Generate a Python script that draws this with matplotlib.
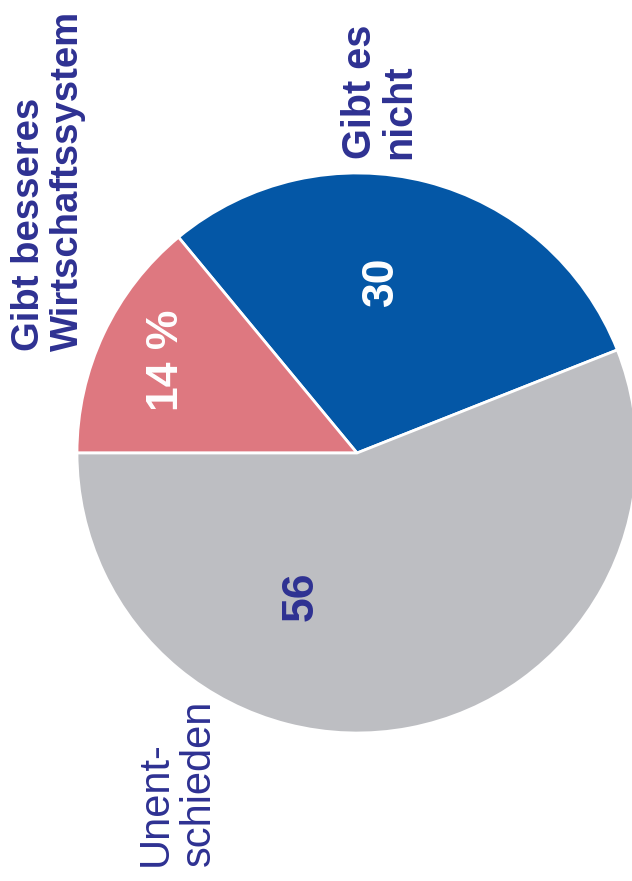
import matplotlib.pyplot as plt

# survey shares in percent
shares = [30, 14, 56]
categories = ['Gibt es\nnicht', 'Gibt besseres\nWirtschaftssystem', 'Unent-\nschieden']
colors = ['#0457A6', '#DE7880', '#BDBEC2']
navy = '#2E3192'

W, H = 632, 881
fig = plt.figure(figsize=(W / 100, H / 100), dpi=100)
ax = fig.add_axes([0, 0, 1, 1])

# pie in pixel coordinates (y measured from the bottom)
ax.pie(shares, colors=colors, startangle=21.6, radius=280, center=(357, H - 453),
       wedgeprops=dict(edgecolor='white', linewidth=2))
ax.set_xlim(0, W)
ax.set_ylim(0, H)
ax.set_aspect('equal')
ax.axis('off')

font = 'Liberation Sans'

# outer category labels, rotated
ax.text(11, H - 351, categories[1], rotation=90, ha='left', va='bottom',
        fontsize=27.5, fontweight='bold', color=navy, family=font,
        linespacing=1.1, multialignment='left')
ax.text(341, H - 159, categories[0], rotation=90, ha='left', va='bottom',
        fontsize=28.5, fontweight='bold', color=navy, family=font,
        linespacing=1.05, multialignment='left')
ax.text(136, H - 866, categories[2], rotation=90, ha='left', va='bottom',
        fontsize=30, color=navy, family=font,
        linespacing=1.1, multialignment='left')

# values inside the wedges
ax.text(166, H - 360, f'{shares[1]} %', rotation=90, ha='center', va='center',
        fontsize=32, fontweight='bold', color='white', family=font)
ax.text(381, H - 281, f'{shares[0]}', rotation=90, ha='center', va='center',
        fontsize=32, fontweight='bold', color='white', family=font)
ax.text(301, H - 596, f'{shares[2]}', rotation=90, ha='center', va='center',
        fontsize=32, fontweight='bold', color=navy, family=font)

fig.savefig('out.png', dpi=100)
